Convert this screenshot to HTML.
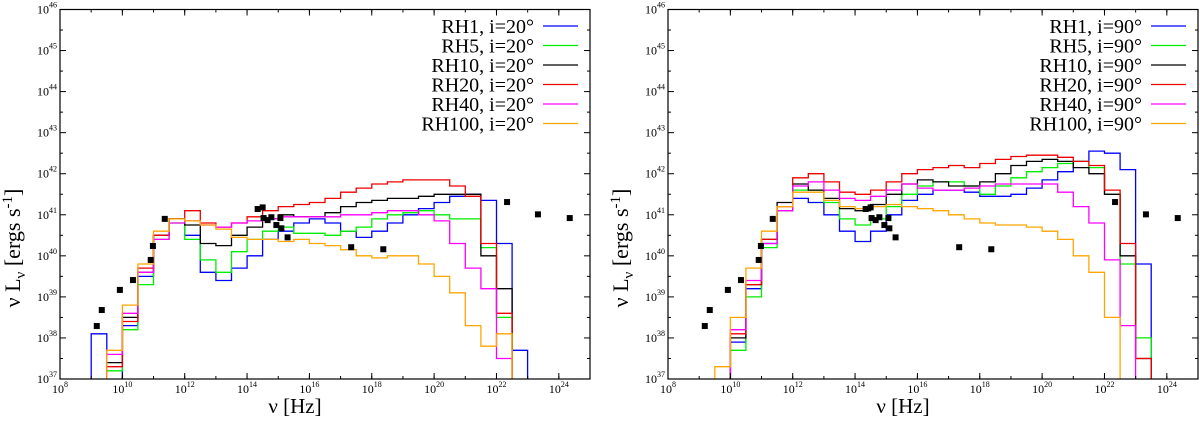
<!DOCTYPE html>
<html><head><meta charset="utf-8"><style>
html,body{margin:0;padding:0;background:#fff;width:1200px;height:421px;overflow:hidden}
text{font-family:"Liberation Serif",serif;fill:#000}
</style></head><body>
<svg id="chart" width="1200" height="421" xmlns="http://www.w3.org/2000/svg"></svg>
<script>
// bins: start log nu, width 0.5 decade
const binStart = 9.0;
const binWidth = 0.5;
const seriesNames = ["RH1","RH5","RH10","RH20","RH40","RH100"];
const seriesColors = ["#0000ff","#00ee00","#000000","#ee0000","#ff00ff","#ffa500"];
const yTickLabels = [37,38,39,40,41,42,43,44,45,46];
const xTickLabels = [8,10,12,14,16,18,20,22,24];
// left panel (i=20) log(nuLnu) per bin, 9.0..23.0
const left_RH1   = [38.1,36.5,38.3,39.5,40.5,40.9,40.5,39.6,39.4,39.7,40.0,40.4,40.6,40.8,40.9,40.8,40.6,40.45,40.6,40.8,41.0,41.15,41.3,41.45,41.5,41.35,40.3,37.7];
const left_RH5   = [36.5,37.2,38.2,39.3,40.4,40.8,40.4,39.9,39.6,40.1,40.4,40.6,40.7,40.55,40.55,40.5,40.6,40.7,40.9,41.0,41.05,41.1,41.0,40.9,40.9,40.2,38.5,36.5];
const left_RH10  = [36.5,37.4,38.5,39.6,40.5,40.9,40.75,40.3,40.25,40.5,40.7,40.9,41.0,40.95,40.95,41.05,41.2,41.3,41.35,41.4,41.4,41.45,41.5,41.5,41.5,40.0,39.2,36.5];
const left_RH20  = [36.5,37.3,38.4,39.7,40.5,40.9,41.1,40.8,40.7,40.8,40.95,41.1,41.2,41.25,41.3,41.4,41.55,41.65,41.75,41.8,41.85,41.85,41.85,41.7,41.45,40.3,38.6,36.5];
const left_RH40  = [36.5,37.6,38.6,39.6,40.4,40.8,40.85,40.75,40.7,40.8,40.85,40.9,40.95,40.95,40.95,40.95,41.0,41.0,41.05,41.1,41.1,41.0,40.85,40.3,39.7,39.2,37.5,36.5];
const left_RH100 = [36.5,37.7,38.8,39.8,40.6,40.9,40.85,40.75,40.65,40.45,40.4,40.4,40.35,40.4,40.3,40.25,40.15,40.0,39.95,40.0,40.0,39.8,39.5,39.1,38.3,37.8,38.1,36.5];
// right panel (i=90)
const right_RH1   = [36.5,36.5,37.9,39.2,40.3,41.1,41.4,41.3,41.0,40.6,40.35,40.6,41.0,41.35,41.5,41.6,41.6,41.55,41.45,41.45,41.5,41.65,41.85,42.05,42.3,42.55,42.5,42.1,39.8,36.5];
const right_RH5   = [36.5,36.5,37.7,39.0,40.2,41.1,41.6,41.6,41.3,40.9,40.75,40.9,41.2,41.5,41.7,41.8,41.8,41.7,41.5,41.7,41.9,42.05,42.15,42.25,42.3,42.15,41.5,39.8,38.0,36.5];
const right_RH10  = [36.5,36.5,38.0,39.3,40.4,41.3,41.75,41.6,41.4,41.15,41.1,41.25,41.5,41.75,41.85,41.8,41.7,41.7,41.8,42.0,42.2,42.3,42.35,42.3,42.15,42.0,41.5,40.0,37.5,36.5];
const right_RH20  = [36.5,36.5,38.1,39.3,40.4,41.2,41.9,42.0,41.8,41.55,41.5,41.6,41.8,42.0,42.1,42.15,42.2,42.15,42.25,42.35,42.42,42.45,42.45,42.4,42.3,42.2,41.6,40.3,37.5,36.5];
const right_RH40  = [36.5,36.5,38.2,39.4,40.3,41.1,41.7,41.8,41.6,41.4,41.35,41.45,41.6,41.75,41.65,41.6,41.6,41.65,41.7,41.75,41.75,41.75,41.75,41.55,41.2,40.8,39.9,38.3,36.5,36.5];
const right_RH100 = [36.5,37.3,38.5,39.7,40.6,41.2,41.55,41.55,41.35,41.2,41.15,41.2,41.25,41.2,41.15,41.1,41.0,40.9,40.8,40.75,40.75,40.7,40.6,40.4,40.0,39.6,38.5,36.5,36.5,36.5];
// observed data points (log nu, log nuLnu)
const obsNu = [9.18,9.34,9.92,10.34,10.91,10.98,11.36,14.34,14.5,14.53,14.66,14.78,14.94,15.07,15.1,15.3,17.34,18.37,22.34,23.33,24.35];
const obsL  = [38.29,38.68,39.17,39.41,39.90,40.24,40.90,41.14,41.18,40.92,40.87,40.94,40.75,40.92,40.67,40.45,40.21,40.16,41.31,41.01,40.92];

const NS="http://www.w3.org/2000/svg";
const svg=document.getElementById('chart');
function mk(tag,attrs,parent){const e=document.createElementNS(NS,tag);for(const k in attrs)e.setAttribute(k,attrs[k]);(parent||svg).appendChild(e);return e;}

function panel(id,x0,series,angle){
  const W=530,top=9.5,bot=379,H=bot-top;
  const X=v=>x0+(v-8)/17*W;
  const Y=v=>bot-(v-37)/9*H;
  const g=mk('g',{});
  
  
  const cp=mk('clipPath',{id:id+'clip'},g);
  mk('rect',{x:x0,y:top,width:W,height:H},cp);
  series.forEach((vals,si)=>{
    let d='M'+X(binStart).toFixed(1)+','+bot;
    vals.forEach((v,i)=>{
      const vv=Math.max(v,36.5);
      d+=' V'+Y(vv).toFixed(1)+' H'+X(binStart+binWidth*(i+1)).toFixed(1);
    });
    d+=' V'+bot;
    const p=mk('path',{d:d,fill:'none',stroke:seriesColors[si],'stroke-width':1.3,'clip-path':'url(#'+id+'clip)'},g);
    
    
  });
  obsNu.forEach((n,i)=>{
    const r=mk('rect',{x:X(n)-3,y:Y(obsL[i])-3,width:6,height:6,fill:'#000'},g);
    
    
  });
  const fr=mk('rect',{x:x0,y:top,width:W,height:H,fill:'none',stroke:'#000','stroke-width':1.2},g);
  
  
  yTickLabels.forEach(t=>{
    const y=Y(t);
    mk('line',{x1:x0,x2:x0+6,y1:y,y2:y,stroke:'#000'},g);
    mk('line',{x1:x0+W,x2:x0+W-6,y1:y,y2:y,stroke:'#000'},g);
    if(t<46){const ym=Y(t+0.5);
      mk('line',{x1:x0,x2:x0+3,y1:ym,y2:ym,stroke:'#000'},g);
      mk('line',{x1:x0+W,x2:x0+W-3,y1:ym,y2:ym,stroke:'#000'},g);}
    const tx=mk('text',{x:x0-3,y:y+4,'text-anchor':'end','font-size':12},g);
    
    
    tx.innerHTML='10<tspan font-size="8" dy="-6">'+t+'</tspan>';
  });
  for(let v=9;v<=24;v++){
    const x=X(v);
    mk('line',{x1:x,x2:x,y1:bot,y2:bot-3,stroke:'#000'},g);
    mk('line',{x1:x,x2:x,y1:top,y2:top+3,stroke:'#000'},g);
  }
  xTickLabels.forEach(t=>{
    const x=X(t);
    mk('line',{x1:x,x2:x,y1:bot,y2:bot-6,stroke:'#000'},g);
    mk('line',{x1:x,x2:x,y1:top,y2:top+6,stroke:'#000'},g);
    const tx=mk('text',{x:x,y:bot+14,'text-anchor':'middle','font-size':12},g);
    
    
    tx.innerHTML='10<tspan font-size="8" dy="-6">'+t+'</tspan>';
  });
  const xt=mk('text',{x:x0+W/2-30,y:413,'text-anchor':'middle','font-size':21},g);
  
  
  xt.textContent='ν [Hz]';
  const yx=x0-40;
  const yt=mk('text',{x:0,y:0,'text-anchor':'middle','font-size':22,transform:'translate('+yx+',248) rotate(-90)'},g);
  
  
  yt.innerHTML='ν L<tspan font-size="15" dy="5">ν</tspan><tspan dy="-5"> [ergs s</tspan><tspan font-size="15" dy="-8">-1</tspan><tspan dy="8">]</tspan>';
  seriesNames.forEach((n,i)=>{
    const y=26+i*19.5;
    const lg=mk('g',{},g);
    
    
    const t=mk('text',{x:x0+W-56,y:y+7,'text-anchor':'end','font-size':20},lg);
    t.textContent=n+', i='+angle+'°';
    mk('line',{x1:x0+W-47,x2:x0+W-12,y1:y,y2:y,stroke:seriesColors[i],'stroke-width':1.3},lg);
  });
}
panel('left',60,[left_RH1,left_RH5,left_RH10,left_RH20,left_RH40,left_RH100],20);
panel('right',668,[right_RH1,right_RH5,right_RH10,right_RH20,right_RH40,right_RH100],90);
</script>
</body></html>
